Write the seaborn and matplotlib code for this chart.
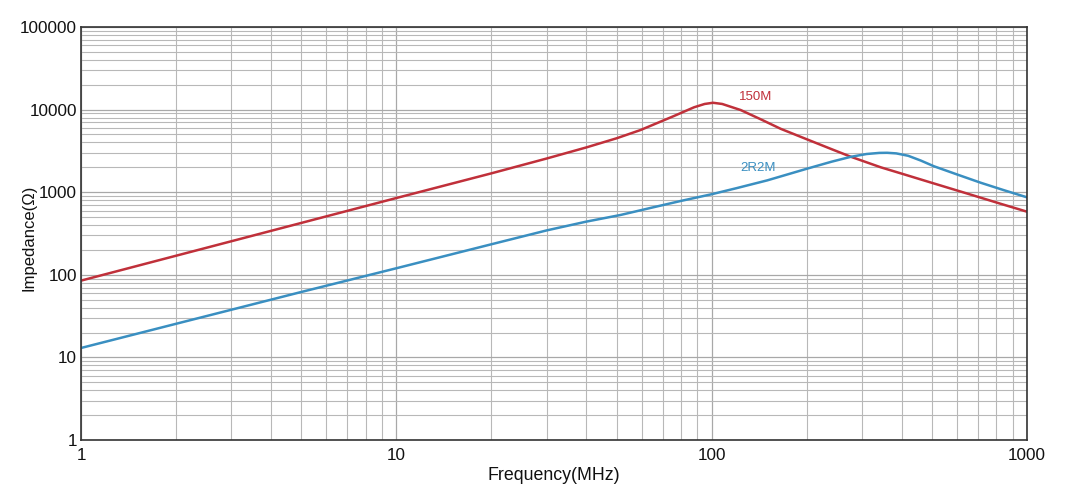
import matplotlib
matplotlib.use("Agg")
import matplotlib.pyplot as plt
import matplotlib.ticker as mticker
import seaborn as sns
import pandas as pd

# --- data ---
freq_150M = [1, 2, 5, 10, 20, 30, 40, 50, 59.5, 75.9, 87.9, 95, 101, 108,
             123.6, 143, 165.6, 201, 240, 276, 344, 398, 507, 648, 827, 1000]
imp_150M = [85, 170, 425, 850, 1690, 2560, 3480, 4500, 5660, 8360, 10660, 11700, 12100, 11700,
            9880, 7640, 5850, 4350, 3320, 2690, 2000, 1690, 1275, 960, 722, 581]

freq_2R2M = [1, 2, 5, 10, 20, 30, 40, 51.4, 64, 80, 100, 120, 150, 201, 240, 276, 310,
             340, 360, 385, 420, 460, 507, 600, 714, 850, 1000]
imp_2R2M = [13, 25.5, 62, 120, 234, 345, 440, 530, 645, 785, 945, 1120, 1390, 1930, 2340, 2680,
            2900, 2990, 3000, 2950, 2760, 2420, 2060, 1640, 1300, 1050, 867]

x_ticks = [1, 10, 100, 1000]
x_tick_labels = ["1", "10", "100", "1000"]
y_ticks = [1, 10, 100, 1000, 10000, 100000]
y_tick_labels = ["1", "10", "100", "1000", "10000", "100000"]

RED = "#c0303a"
BLUE = "#3a8fc1"

df = pd.concat([
    pd.DataFrame({"Frequency": freq_150M, "Impedance": imp_150M, "Part": "150M"}),
    pd.DataFrame({"Frequency": freq_2R2M, "Impedance": imp_2R2M, "Part": "2R2M"}),
])

sns.set_theme(style="white")
plt.rcParams["font.family"] = ["Liberation Sans", "DejaVu Sans"]

fig = plt.figure(figsize=(10.7, 4.97), dpi=100)
ax = fig.add_axes([81 / 1070, (497 - 440) / 497, (1027 - 81) / 1070, (440 - 27) / 497])

sns.lineplot(data=df, x="Frequency", y="Impedance", hue="Part",
             palette={"150M": RED, "2R2M": BLUE}, linewidth=1.8,
             legend=False, ax=ax, sort=False, estimator=None)

ax.set_xscale("log")
ax.set_yscale("log")
ax.set_xlim(1, 1000)
ax.set_ylim(1, 100000)

ax.xaxis.set_major_locator(mticker.FixedLocator(x_ticks))
ax.xaxis.set_major_formatter(mticker.FixedFormatter(x_tick_labels))
ax.yaxis.set_major_locator(mticker.FixedLocator(y_ticks))
ax.yaxis.set_major_formatter(mticker.FixedFormatter(y_tick_labels))
ax.xaxis.set_minor_locator(mticker.LogLocator(base=10, subs=range(2, 10)))
ax.yaxis.set_minor_locator(mticker.LogLocator(base=10, subs=range(2, 10)))
ax.xaxis.set_minor_formatter(mticker.NullFormatter())
ax.yaxis.set_minor_formatter(mticker.NullFormatter())

ax.grid(True, which="major", color="#a8a8a8", linewidth=0.9)
ax.grid(True, which="minor", color="#b8b8b8", linewidth=0.8)
ax.set_axisbelow(True)

ax.tick_params(which="both", length=0, labelsize=12.3, colors="#111111")
ax.tick_params(axis="y", pad=3)
ax.tick_params(axis="x", pad=6)
for s in ax.spines.values():
    s.set_visible(True)
    s.set_color("#333333")
    s.set_linewidth(1.2)

ax.set_xlabel("Frequency(MHz)", fontsize=12.8, color="#111111")
ax.set_ylabel("Impedance(Ω)", fontsize=12, color="#111111")
ax.xaxis.set_label_coords(0.5, -0.065)
ax.yaxis.set_label_coords(-0.047, 0.49)

ax.text(138, 14200, "150M", color=RED, fontsize=9.5, ha="center", va="center")
ax.text(140, 1960, "2R2M", color=BLUE, fontsize=9.5, ha="center", va="center")

fig.savefig("out.png", dpi=100, facecolor="white")
